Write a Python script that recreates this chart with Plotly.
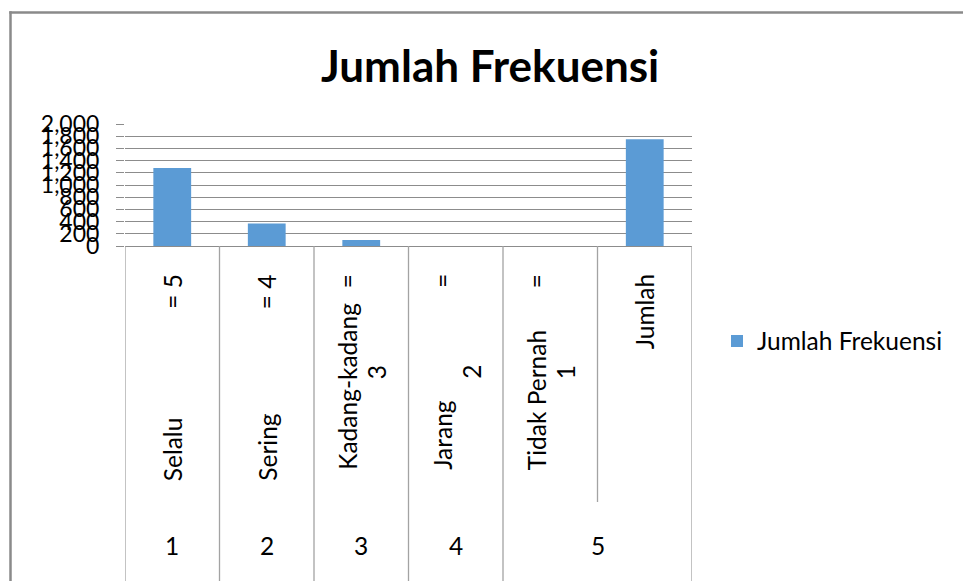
import plotly.graph_objects as go

# ---- data ----
categories = ["Selalu", "Sering", "Kadang-kadang", "Jarang", "Tidak Pernah", "Jumlah"]
codes_line1 = ["= 5", "= 4", "=", "=", "=", ""]
codes_line2 = ["", "", "3", "2", "1", ""]
group_labels = ["1", "2", "3", "4", "5"]
group_of_category = [0, 1, 2, 3, 4, 4]
values = [1280, 370, 100, 0, 0, 1750]
series_name = "Jumlah Frekuensi"
y_ticks = [0, 200, 400, 600, 800, 1000, 1200, 1400, 1600, 1800, 2000]
y_tick_text = ["0", "200", "400", "600", "800", "1,000", "1,200", "1,400", "1,600", "1,800", "2,000"]

# ---- layout constants ----
W, H = 963, 581
L, R, T, B = 125, 271, 124, 335
PW = W - L - R
PH = H - T - B
FONT = "Lato, 'Open Sans', sans-serif"
GRID = "#8c8c8c"
DIV = "#a3a3a3"
CAT_FONT = dict(size=24.5, color="black")


def px_x(X):
    return (X - L) / PW


def px_y(Y):
    return (H - B - Y) / PH


fig = go.Figure()
fig.add_trace(go.Bar(
    x=list(range(len(categories))), y=values, name=series_name,
    marker=dict(color="#5b9bd5", line=dict(width=0)), width=0.4,
))

annotations = []
for i, name in enumerate(categories):
    two = codes_line2[i] != ""
    shift1 = -14 if two else 0
    bottom = 472 if two else 483
    if name == "Jumlah":
        annotations.append(dict(x=i, xref="x", y=px_y(272), yref="paper", text=name,
                                textangle=-90, showarrow=False, xanchor="center",
                                yanchor="top", xshift=shift1, font=CAT_FONT))
    else:
        annotations.append(dict(x=i, xref="x", y=px_y(bottom), yref="paper", text=name,
                                textangle=-90, showarrow=False, xanchor="center",
                                yanchor="bottom", xshift=shift1, font=CAT_FONT))
    if codes_line1[i]:
        annotations.append(dict(x=i, xref="x", y=px_y(272), yref="paper", text=codes_line1[i],
                                textangle=-90, showarrow=False, xanchor="center",
                                yanchor="top", xshift=shift1, font=CAT_FONT))
    if two:
        annotations.append(dict(x=i, xref="x", y=px_y(372), yref="paper", text=codes_line2[i],
                                textangle=-90, showarrow=False, xanchor="center",
                                yanchor="middle", xshift=15, font=CAT_FONT))

for g, lab in enumerate(group_labels):
    members = [i for i, gg in enumerate(group_of_category) if gg == g]
    annotations.append(dict(x=sum(members) / len(members), xref="x", y=px_y(545), yref="paper",
                            text=lab, showarrow=False, xanchor="center", yanchor="middle",
                            font=CAT_FONT))

annotations.append(dict(x=px_x(490), xref="paper", y=px_y(65), yref="paper",
                        text="<b>Jumlah Frekuensi</b>", showarrow=False,
                        font=dict(size=44, color="black"), xanchor="center", yanchor="middle"))

shapes = []
n = len(categories)
for k in range(n + 1):
    b = k - 0.5
    left_g = group_of_category[k - 1] if k > 0 else None
    right_g = group_of_category[k] if k < n else None
    bottom_px = 581 if left_g != right_g else 500
    shapes.append(dict(type="line", xref="x", yref="paper", x0=b, x1=b,
                       y0=0, y1=px_y(bottom_px + 2), line=dict(color=DIV, width=1.3)))

# chart border (top and left edges visible)
BORDER = dict(color="#8a8a8a", width=2.5)
shapes.append(dict(type="line", xref="paper", yref="paper",
                   x0=px_x(9.3), x1=px_x(1500), y0=px_y(12.5), y1=px_y(12.5), line=BORDER))
shapes.append(dict(type="line", xref="paper", yref="paper",
                   x0=px_x(10.5), x1=px_x(10.5), y0=px_y(11.3), y1=px_y(590), line=BORDER))

fig.update_layout(
    width=W, height=H,
    margin=dict(l=L, r=R, t=T, b=B, autoexpand=False),
    paper_bgcolor="white", plot_bgcolor="white",
    font=dict(family=FONT, size=23, color="black"),
    showlegend=True,
    legend=dict(x=px_x(717), y=px_y(341), xanchor="left", yanchor="middle",
                font=dict(size=24.5), bgcolor="rgba(0,0,0,0)"),
    xaxis=dict(range=[-0.5, n - 0.5], showticklabels=False, ticks="", showgrid=False,
               showline=True, linecolor=GRID, linewidth=1, zeroline=False, fixedrange=True),
    yaxis=dict(range=[0, 2000], tickvals=y_ticks, ticktext=y_tick_text,
               showgrid=True, gridcolor=GRID, gridwidth=1, zeroline=False,
               ticks="outside", ticklen=8, tickcolor=GRID, showline=False,
               ticklabelstandoff=12, tickfont=dict(size=23)),
    annotations=annotations,
    shapes=shapes,
    bargap=0.6,
)

fig.write_html(
    "out.html",
    config={"displayModeBar": False},
    post_script="document.body.style.margin='0';document.body.style.overflow='hidden';",
)
